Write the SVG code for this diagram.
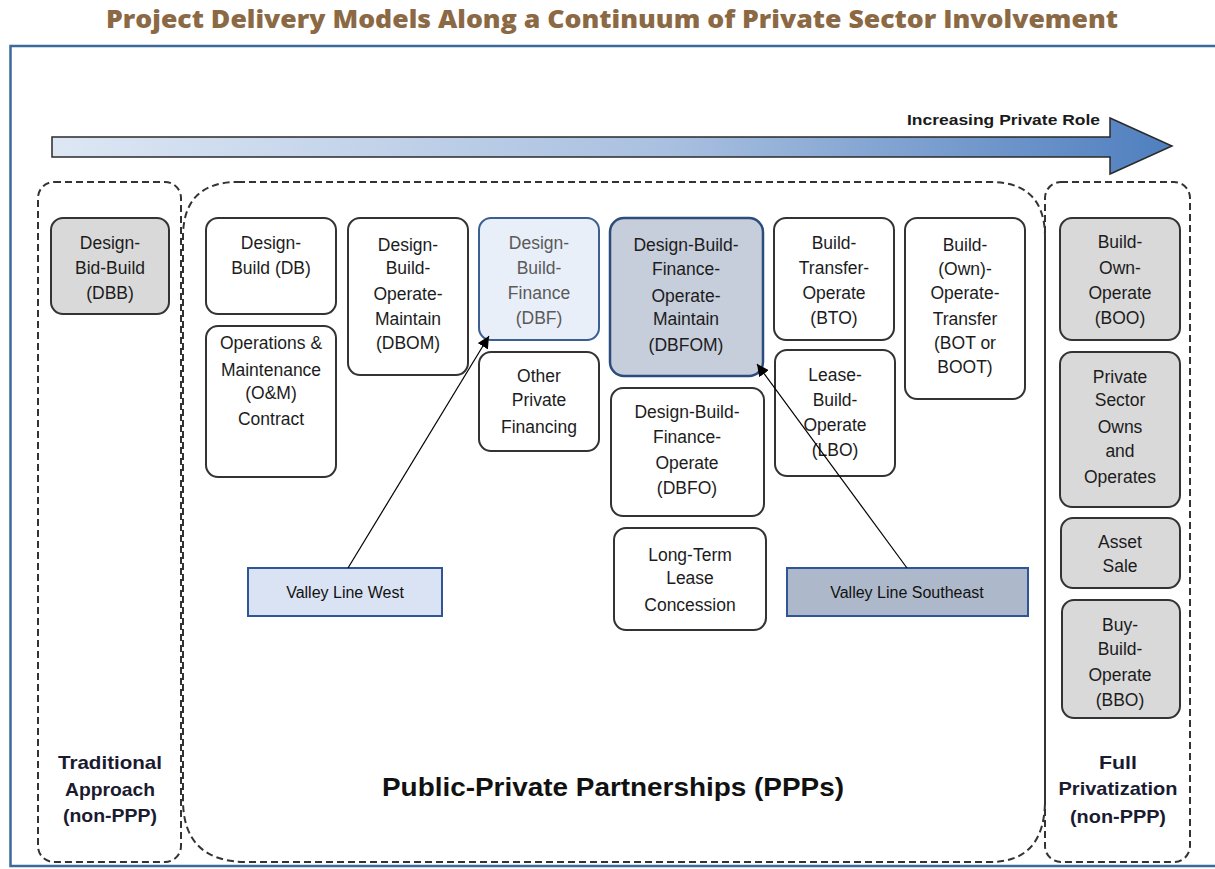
<svg xmlns="http://www.w3.org/2000/svg" width="1215" height="869" viewBox="0 0 1215 869">
<defs>
<linearGradient id="shaft" x1="0" y1="0" x2="1" y2="0">
<stop offset="0" stop-color="#dde7f4"/>
<stop offset="0.55" stop-color="#a9c0e0"/>
<stop offset="1" stop-color="#4f7fbf"/>
</linearGradient>
<marker id="ah" viewBox="0 0 10 10" refX="10" refY="5" markerWidth="12" markerHeight="12" markerUnits="userSpaceOnUse" orient="auto">
<path d="M0,0 L10,5 L0,10 Z" fill="#000"/>
</marker>
<style>
.grp{fill:none;stroke:#333;stroke-width:2;stroke-dasharray:7 4}
.box{fill:#fff;stroke:#333;stroke-width:2}
.gray{fill:#d9d9d9;stroke:#333;stroke-width:2}
.t{font-family:"Liberation Sans",Arial,sans-serif;font-size:17.5px;fill:#1c1c1c;text-anchor:middle}
.tb{font-family:"Liberation Sans",Arial,sans-serif;font-size:19px;font-weight:bold;fill:#1a1a30;text-anchor:middle}
.tag{font-family:"Liberation Sans",Arial,sans-serif;font-size:16px;fill:#111;text-anchor:middle}
.lead{stroke:#000;stroke-width:1.2;fill:none}
</style>
</defs>
<rect width="1215" height="869" fill="#fff"/>
<text x="612" y="28" text-anchor="middle" font-family="'Open Sans',sans-serif" font-size="25" font-weight="800" fill="#8b6945" textLength="1012" lengthAdjust="spacingAndGlyphs">Project Delivery Models Along a Continuum of Private Sector Involvement</text>
<rect x="10.5" y="46" width="1215" height="820" fill="none" stroke="#3a6a9c" stroke-width="2.5"/>

<g id="continuum-arrow">
<path d="M52,137 L1110,137 L1110,118 L1172,146 L1110,174 L1110,157 L52,157 Z" fill="url(#shaft)" stroke="#2a2a2a" stroke-width="1.5"/>
<text x="1100" y="125" text-anchor="end" font-family="'Liberation Sans',Arial,sans-serif" font-size="15" font-weight="bold" fill="#1a1a1a" textLength="193" lengthAdjust="spacingAndGlyphs">Increasing Private Role</text>
</g>

<g id="group-traditional">
<rect class="grp" x="38" y="182" width="143" height="680" rx="16"/>
<text class="tb"><tspan x="110" y="769" textLength="104" lengthAdjust="spacingAndGlyphs">Traditional</tspan><tspan x="110" y="796" textLength="90" lengthAdjust="spacingAndGlyphs">Approach</tspan><tspan x="110" y="822" textLength="94" lengthAdjust="spacingAndGlyphs">(non-PPP)</tspan></text>
</g>
<g id="group-ppp">
<path class="grp" d="M238,182 L990,182 Q1045,182 1045,237 L1045,800 Q1045,862 990,862 L247,862 Q183,862 183,800 L183,237 Q183,182 238,182 Z"/>
<text x="613" y="796" text-anchor="middle" font-family="'Liberation Sans',Arial,sans-serif" font-size="25" font-weight="bold" fill="#111" textLength="462" lengthAdjust="spacingAndGlyphs">Public-Private Partnerships (PPPs)</text>
</g>
<g id="group-full">
<rect class="grp" x="1045" y="182" width="145" height="680" rx="16"/>
<text class="tb"><tspan x="1118" y="769" textLength="38" lengthAdjust="spacingAndGlyphs">Full</tspan><tspan x="1118" y="795" textLength="119" lengthAdjust="spacingAndGlyphs">Privatization</tspan><tspan x="1118" y="823" textLength="96" lengthAdjust="spacingAndGlyphs">(non-PPP)</tspan></text>
</g>

<g id="dbb"><rect class="gray" x="51" y="218" width="118" height="96" rx="12"/>
<text class="t"><tspan x="110" y="249">Design-</tspan><tspan x="110" y="274">Bid-Build</tspan><tspan x="110" y="299">(DBB)</tspan></text></g>

<g id="db"><rect class="box" x="206" y="218" width="130" height="96" rx="12"/>
<text class="t"><tspan x="271" y="249">Design-</tspan><tspan x="271" y="274">Build (DB)</tspan></text></g>

<g id="om"><rect class="box" x="206" y="326" width="130" height="151" rx="12"/>
<text class="t"><tspan x="271" y="349">Operations &amp;</tspan><tspan x="271" y="376">Maintenance</tspan><tspan x="271" y="399">(O&amp;M)</tspan><tspan x="271" y="425">Contract</tspan></text></g>

<g id="dbom"><rect class="box" x="348" y="218" width="120" height="157" rx="12"/>
<text class="t"><tspan x="408" y="251">Design-</tspan><tspan x="408" y="274">Build-</tspan><tspan x="408" y="300">Operate-</tspan><tspan x="408" y="325">Maintain</tspan><tspan x="408" y="349">(DBOM)</tspan></text></g>

<g id="dbf"><rect x="479" y="218" width="120" height="122" rx="12" fill="#e9eff9" stroke="#3c5f91" stroke-width="2"/>
<text class="t" style="fill:#5a5a5a"><tspan x="539" y="249">Design-</tspan><tspan x="539" y="274">Build-</tspan><tspan x="539" y="299">Finance</tspan><tspan x="539" y="324">(DBF)</tspan></text></g>

<g id="opf"><rect class="box" x="479" y="352" width="120" height="99" rx="12"/>
<text class="t"><tspan x="539" y="382">Other</tspan><tspan x="539" y="406">Private</tspan><tspan x="539" y="433">Financing</tspan></text></g>

<g id="dbfom"><rect x="610" y="218" width="153" height="158" rx="14" fill="#c6cddb" stroke="#2c4c7c" stroke-width="2.5"/>
<text class="t"><tspan x="686" y="251">Design-Build-</tspan><tspan x="686" y="275">Finance-</tspan><tspan x="686" y="302">Operate-</tspan><tspan x="686" y="325">Maintain</tspan><tspan x="686" y="351">(DBFOM)</tspan></text></g>

<g id="dbfo"><rect class="box" x="611" y="388" width="153" height="128" rx="12"/>
<text class="t"><tspan x="687" y="418">Design-Build-</tspan><tspan x="687" y="443">Finance-</tspan><tspan x="687" y="469">Operate</tspan><tspan x="687" y="494">(DBFO)</tspan></text></g>

<g id="ltlc"><rect class="box" x="614" y="528" width="152" height="102" rx="12"/>
<text class="t"><tspan x="690" y="561">Long-Term</tspan><tspan x="690" y="584">Lease</tspan><tspan x="690" y="611">Concession</tspan></text></g>

<g id="bto"><rect class="box" x="774" y="218" width="120" height="122" rx="12"/>
<text class="t"><tspan x="834" y="249">Build-</tspan><tspan x="834" y="274">Transfer-</tspan><tspan x="834" y="299">Operate</tspan><tspan x="834" y="324">(BTO)</tspan></text></g>

<g id="lbo"><rect class="box" x="775" y="350" width="120" height="126" rx="12"/>
<text class="t"><tspan x="835" y="381">Lease-</tspan><tspan x="835" y="406">Build-</tspan><tspan x="835" y="431">Operate</tspan><tspan x="835" y="456">(LBO)</tspan></text></g>

<g id="bot"><rect class="box" x="905" y="218" width="120" height="181" rx="12"/>
<text class="t"><tspan x="965" y="251">Build-</tspan><tspan x="965" y="275">(Own)-</tspan><tspan x="965" y="299">Operate-</tspan><tspan x="965" y="325">Transfer</tspan><tspan x="965" y="349">(BOT or</tspan><tspan x="965" y="373">BOOT)</tspan></text></g>

<g id="boo"><rect class="gray" x="1060" y="218" width="120" height="122" rx="12"/>
<text class="t"><tspan x="1120" y="248">Build-</tspan><tspan x="1120" y="274">Own-</tspan><tspan x="1120" y="299">Operate</tspan><tspan x="1120" y="324">(BOO)</tspan></text></g>

<g id="psoo"><rect class="gray" x="1060" y="352" width="120" height="155" rx="12"/>
<text class="t"><tspan x="1120" y="383">Private</tspan><tspan x="1120" y="406">Sector</tspan><tspan x="1120" y="433">Owns</tspan><tspan x="1120" y="457">and</tspan><tspan x="1120" y="483">Operates</tspan></text></g>

<g id="asset-sale"><rect class="gray" x="1061" y="518" width="119" height="70" rx="12"/>
<text class="t"><tspan x="1120" y="548">Asset</tspan><tspan x="1120" y="572">Sale</tspan></text></g>

<g id="bbo"><rect class="gray" x="1062" y="600" width="118" height="118" rx="12"/>
<text class="t"><tspan x="1120" y="631">Buy-</tspan><tspan x="1120" y="655">Build-</tspan><tspan x="1120" y="681">Operate</tspan><tspan x="1120" y="706">(BBO)</tspan></text></g>

<g id="vlw"><rect x="248" y="568" width="194" height="48" fill="#dae3f3" stroke="#2f5597" stroke-width="2"/>
<text class="tag" x="345" y="598">Valley Line West</text></g>

<g id="vlse"><rect x="787" y="568" width="241" height="48" fill="#adb9ca" stroke="#2f5597" stroke-width="2"/>
<text class="tag" x="907" y="598">Valley Line Southeast</text></g>

<g id="connectors">
<line class="lead" x1="348" y1="568" x2="489" y2="336" marker-end="url(#ah)"/>
<line class="lead" x1="907" y1="568" x2="757" y2="364" marker-end="url(#ah)"/>
</g>
</svg>
